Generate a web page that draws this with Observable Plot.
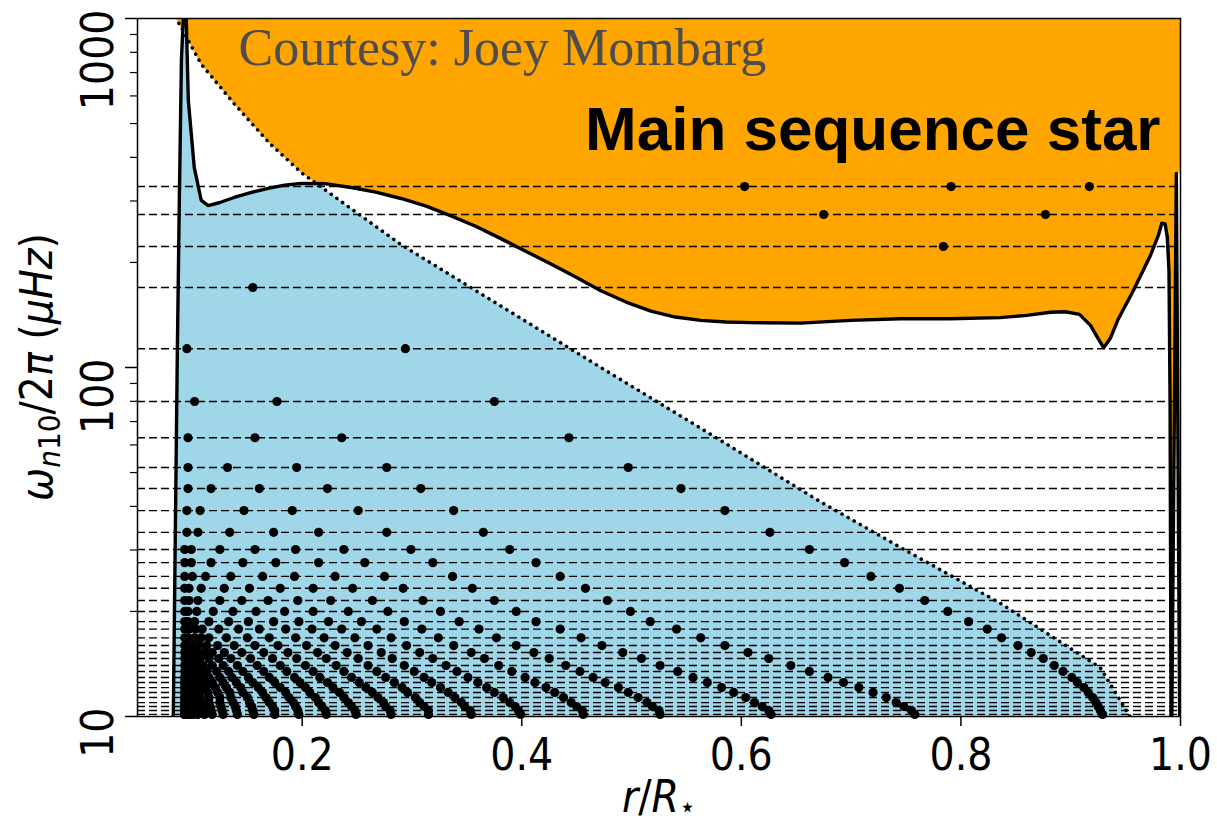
<!DOCTYPE html>
<html><head><meta charset="utf-8">
<script src="https://cdn.jsdelivr.net/npm/d3@7"></script>
<script src="https://cdn.jsdelivr.net/npm/@observablehq/plot@0.6"></script>
<style>body{margin:0;background:#fff;} svg{display:block;}</style>
</head><body><div id="chart"></div>
<script>
// mode frequencies (μHz), l = 1 (three p modes, then g modes n = 1..31)
const modeFreq = [330, 274.4, 222.2, 169.5, 113.2, 79.9, 62.9, 51.7, 45.0, 38.9, 33.7, 30.1, 27.6, 25.2, 23.3, 21.5, 20.0, 18.7, 17.8, 16.8, 15.97, 15.25, 14.66, 14.0, 13.46, 12.94, 12.51, 12.1, 11.72, 11.33, 10.96, 10.68, 10.4, 10.14];
// node positions r/R* of each mode (same order as modeFreq)
const nodesR = [
 [0.603, 0.791, 0.917],
 [0.675, 0.877],
 [0.784],
 [0.155],
 [0.095, 0.294],
 [0.102, 0.177, 0.375],
 [0.096, 0.157, 0.236, 0.443],
 [0.096, 0.132, 0.195, 0.277, 0.497],
 [0.096, 0.117, 0.161, 0.223, 0.308, 0.545],
 [0.095, 0.107, 0.147, 0.191, 0.251, 0.338, 0.585],
 [0.095, 0.105, 0.134, 0.174, 0.215, 0.277, 0.365, 0.626],
 [0.093, 0.099, 0.125, 0.157, 0.194, 0.238, 0.299, 0.389, 0.662],
 [0.093, 0.099, 0.117, 0.146, 0.176, 0.215, 0.257, 0.319, 0.413, 0.694],
 [0.093, 0.100, 0.112, 0.135, 0.164, 0.193, 0.230, 0.275, 0.337, 0.435, 0.718],
 [0.093, 0.097, 0.108, 0.129, 0.152, 0.180, 0.210, 0.246, 0.292, 0.355, 0.458, 0.744],
 [0.093, 0.097, 0.105, 0.125, 0.145, 0.169, 0.196, 0.226, 0.264, 0.310, 0.375, 0.478, 0.767],
 [0.093, 0.096, 0.104, 0.119, 0.137, 0.158, 0.184, 0.210, 0.242, 0.278, 0.326, 0.395, 0.499, 0.788],
 [0.093, 0.096, 0.102, 0.115, 0.133, 0.151, 0.174, 0.197, 0.224, 0.254, 0.293, 0.343, 0.413, 0.517, 0.807],
 [0.824, 0.541, 0.435, 0.361, 0.309, 0.268, 0.236, 0.209, 0.185, 0.161, 0.142, 0.124, 0.109, 0.103, 0.097, 0.093],
 [0.837, 0.563, 0.454, 0.377, 0.324, 0.281, 0.248, 0.220, 0.194, 0.170, 0.150, 0.131, 0.115, 0.108, 0.102, 0.096, 0.093],
 [0.852, 0.585, 0.473, 0.395, 0.338, 0.295, 0.260, 0.230, 0.204, 0.178, 0.157, 0.138, 0.123, 0.113, 0.106, 0.100, 0.095, 0.093],
 [0.864, 0.606, 0.492, 0.411, 0.354, 0.307, 0.272, 0.241, 0.214, 0.187, 0.165, 0.145, 0.129, 0.118, 0.111, 0.104, 0.098, 0.095, 0.093],
 [0.875, 0.625, 0.509, 0.425, 0.366, 0.319, 0.282, 0.251, 0.222, 0.195, 0.173, 0.153, 0.135, 0.124, 0.115, 0.107, 0.101, 0.096, 0.095, 0.093],
 [0.885, 0.645, 0.526, 0.440, 0.379, 0.331, 0.293, 0.260, 0.231, 0.203, 0.180, 0.159, 0.141, 0.128, 0.118, 0.110, 0.104, 0.098, 0.095, 0.094, 0.093],
 [0.893, 0.662, 0.542, 0.453, 0.391, 0.341, 0.302, 0.268, 0.238, 0.210, 0.186, 0.165, 0.146, 0.133, 0.122, 0.113, 0.106, 0.100, 0.097, 0.095, 0.094, 0.093],
 [0.901, 0.679, 0.556, 0.465, 0.403, 0.351, 0.311, 0.276, 0.245, 0.216, 0.193, 0.170, 0.151, 0.136, 0.125, 0.115, 0.108, 0.102, 0.098, 0.095, 0.094, 0.093, 0.093],
 [0.906, 0.693, 0.569, 0.476, 0.412, 0.360, 0.318, 0.284, 0.252, 0.223, 0.198, 0.175, 0.155, 0.140, 0.128, 0.118, 0.110, 0.104, 0.100, 0.096, 0.095, 0.094, 0.093, 0.093],
 [0.912, 0.707, 0.582, 0.488, 0.422, 0.368, 0.326, 0.291, 0.258, 0.228, 0.203, 0.180, 0.160, 0.144, 0.131, 0.121, 0.112, 0.105, 0.101, 0.097, 0.095, 0.095, 0.094, 0.093, 0.093],
 [0.916, 0.720, 0.593, 0.497, 0.430, 0.375, 0.333, 0.296, 0.264, 0.234, 0.207, 0.185, 0.164, 0.146, 0.134, 0.123, 0.114, 0.106, 0.102, 0.098, 0.095, 0.095, 0.094, 0.094, 0.093, 0.093],
 [0.920, 0.732, 0.604, 0.506, 0.438, 0.383, 0.339, 0.303, 0.269, 0.238, 0.212, 0.188, 0.167, 0.150, 0.135, 0.125, 0.115, 0.107, 0.103, 0.099, 0.096, 0.095, 0.095, 0.094, 0.094, 0.093, 0.093],
 [0.923, 0.741, 0.612, 0.514, 0.445, 0.389, 0.345, 0.307, 0.274, 0.242, 0.215, 0.192, 0.170, 0.152, 0.137, 0.125, 0.115, 0.108, 0.104, 0.099, 0.096, 0.095, 0.095, 0.094, 0.094, 0.093, 0.093, 0.093],
 [0.925, 0.748, 0.619, 0.519, 0.450, 0.394, 0.348, 0.311, 0.276, 0.245, 0.218, 0.194, 0.173, 0.154, 0.139, 0.126, 0.116, 0.109, 0.105, 0.100, 0.097, 0.096, 0.095, 0.095, 0.094, 0.094, 0.093, 0.093, 0.093],
 [0.927, 0.755, 0.625, 0.525, 0.455, 0.397, 0.353, 0.315, 0.280, 0.248, 0.221, 0.196, 0.175, 0.155, 0.140, 0.127, 0.117, 0.110, 0.105, 0.100, 0.097, 0.096, 0.095, 0.095, 0.095, 0.094, 0.094, 0.093, 0.093, 0.093],
 [0.929, 0.758, 0.627, 0.526, 0.456, 0.399, 0.354, 0.315, 0.281, 0.249, 0.222, 0.197, 0.175, 0.156, 0.141, 0.128, 0.118, 0.111, 0.105, 0.101, 0.098, 0.096, 0.095, 0.095, 0.095, 0.095, 0.094, 0.094, 0.093, 0.093, 0.093]
];
// Brunt-Väisälä frequency N/2π (μHz) vs r/R*
const nR = [0.0826, 0.0863, 0.0881, 0.090, 0.0917, 0.0926, 0.0944, 0.0963, 0.1017, 0.1081, 0.1145, 0.125, 0.138, 0.153, 0.169, 0.184, 0.199, 0.222, 0.2446, 0.267, 0.290, 0.313, 0.3356, 0.358, 0.381, 0.404, 0.4266, 0.450, 0.472, 0.495, 0.5176, 0.540, 0.563, 0.586, 0.6086, 0.654, 0.6995, 0.745, 0.790, 0.836, 0.860, 0.8815, 0.895, 0.908, 0.918, 0.925, 0.930, 0.936, 0.943, 0.957, 0.9725, 0.980, 0.983, 0.986, 0.988, 0.9895, 0.9905, 0.9914, 0.9921, 0.9962, 0.9992];
const nF = [10, 112, 301, 758, 1000, 1090, 1000, 582, 374, 301, 291, 297, 307, 317, 326, 333, 337, 336, 328, 318, 305, 290, 272, 254, 234, 215, 198, 181, 166, 154, 145, 139.5, 136.5, 135, 134.5, 134, 136.5, 138, 138, 139, 141, 144, 144.5, 142, 132, 121, 114, 121, 137, 166, 209, 240, 259, 258, 236, 190, 80, 10, 10, 360, 10];
// Lamb frequency S1/2π (μHz) vs r/R*
const lambR = [0.080, 0.0853, 0.108, 0.138, 0.170, 0.200, 0.290, 0.381, 0.472, 0.563, 0.670, 0.745, 0.836, 0.927, 0.954, 0.963];
const lambF = [1100, 1000, 740, 570, 440, 360, 225, 150, 100, 67, 41.6, 30.5, 21.1, 13.8, 10, 8];
const xTicks = [0.2, 0.4, 0.6, 0.8, 1.0];
const yMajor = [10, 100, 1000];
const yMinor = [20, 30, 40, 50, 60, 70, 80, 90, 200, 300, 400, 500, 600, 700, 800, 900];

const nLine = nR.map((r, i) => ({r, f: nF[i]}));
const lambLine = lambR.map((r, i) => ({r, f: lambF[i]}));
const nodeTable = modeFreq.flatMap((f, i) => nodesR[i].map(r => ({r, f})));

function interpLog(R, F, x) {
  if (x < R[0] || x > R[R.length - 1]) return NaN;
  let i = d3.bisectRight(R, x) - 1;
  if (i >= R.length - 1) i = R.length - 2;
  const t = (x - R[i]) / (R[i + 1] - R[i]);
  return Math.exp(Math.log(F[i]) + t * (Math.log(F[i + 1]) - Math.log(F[i])));
}
const xs = Array.from(new Set([...d3.range(nR[0], 1.0, 0.0005), ...nR, ...lambR, 1.0]))
  .filter(x => x >= nR[0] && x <= 1.0).sort((a, b) => a - b);
const spikeIdx = nF.length - 2; // surface spike
const blueArea = xs.filter(x => x <= nR[nR.length - 1]).map(x => {
  const n = interpLog(nR, nF, x);
  let s = interpLog(lambR, lambF, x); if (isNaN(s)) s = 1;
  return {x, y1: 10, y2: Math.max(10, Math.min(n, s))};
});
const orangeArea = xs.map(x => {
  let b;
  if (x >= nR[spikeIdx]) b = nF[spikeIdx];
  else {
    const n = interpLog(nR, nF, x);
    let s = interpLog(lambR, lambF, x); if (isNaN(s)) s = 1;
    b = Math.max(n, s);
  }
  return {x, y1: Math.min(1000, Math.max(10, b)), y2: 1000};
});

const tickFont = "'DejaVu Sans Condensed','DejaVu Sans',sans-serif";
const plot = Plot.plot({
  width: 1217, height: 830,
  marginLeft: 137, marginRight: 37, marginTop: 18, marginBottom: 114,
  style: {background: "white", fontFamily: tickFont, fontStretch: "condensed", overflow: "visible"},
  x: {domain: [0.05, 1.0]},
  y: {type: "log", domain: [10, 1000]},
  marks: [
    Plot.areaY(orangeArea, {x: "x", y1: "y1", y2: "y2", fill: "#ffa500", clip: true}),
    Plot.areaY(blueArea, {x: "x", y1: "y1", y2: "y2", fill: "#9fd6e8", clip: true}),
    Plot.ruleY(modeFreq, {stroke: "black", strokeWidth: 1.4, strokeDasharray: "8,4"}),
    Plot.line(lambLine, {x: "r", y: "f", stroke: "black", strokeWidth: 3.6, strokeLinecap: "round", strokeDasharray: "0.01,7", clip: true}),
    Plot.line(nLine, {x: "r", y: "f", stroke: "black", strokeWidth: 3.4, strokeLinejoin: "round", clip: true}),
    Plot.dot(nodeTable, {x: "r", y: "f", r: 4.6, fill: "black", stroke: "none"}),
    Plot.frame({stroke: "black", strokeWidth: 1.5}),
    Plot.axisX(xTicks, {tickSize: 10, tickPadding: 12, strokeWidth: 1.5, tickFormat: d => d.toFixed(1), fontSize: 44, label: null}),
    Plot.axisY(yMajor, {tickSize: 12, strokeWidth: 1.5, tickFormat: () => "", label: null}),
    Plot.axisY(yMinor, {tickSize: 7, strokeWidth: 1.2, tickFormat: () => "", label: null}),
    Plot.text(yMajor, {y: d => d, text: d => String(d), frameAnchor: "left", dx: -25, dy: -9, rotate: -90, textAnchor: "end", lineAnchor: "bottom", fontSize: 44, fill: "black"}),
    Plot.text(["Courtesy: Joey Mombarg"], {text: d => d, frameAnchor: "top-left", dx: 101, dy: 46, textAnchor: "start", lineAnchor: "bottom", fontSize: 52, fontFamily: "'Liberation Serif', serif", fill: "#4d4d4d"}),
    Plot.text(["Main sequence star"], {text: d => d, frameAnchor: "top-right", dx: -20, dy: 131, textAnchor: "end", lineAnchor: "bottom", fontSize: 62, fontWeight: "bold", fontFamily: "'Liberation Sans', Arial, sans-serif", fill: "black"})
  ]
});
document.getElementById("chart").appendChild(plot);

// axis titles (mathtext-like)
const svg = d3.select(plot);
const yl = svg.append("text").attr("transform", "translate(52,367) rotate(-90)")
  .attr("text-anchor", "middle").attr("font-size", 44).attr("font-family", "'DejaVu Sans','DejaVu Sans Condensed',sans-serif").attr("fill", "black");
yl.append("tspan").attr("font-style", "italic").text("ω");
yl.append("tspan").attr("font-style", "italic").attr("font-size", 31).attr("dy", 8).text("n");
yl.append("tspan").attr("font-size", 31).text("10");
yl.append("tspan").attr("dy", -8).text("/2");
yl.append("tspan").attr("font-style", "italic").text("π");
yl.append("tspan").text(" (");
yl.append("tspan").attr("font-style", "italic").text("μHz");
yl.append("tspan").text(")");

const xl = svg.append("text").attr("x", 659).attr("y", 812).attr("text-anchor", "middle")
  .attr("font-size", 44).attr("font-family", "'DejaVu Sans',sans-serif").attr("fill", "black");
xl.append("tspan").attr("font-style", "italic").text("r");
xl.append("tspan").text("/");
xl.append("tspan").attr("font-style", "italic").text("R");
xl.append("tspan").attr("font-size", 30).attr("dy", 5).text("⋆");
</script>
</body></html>
